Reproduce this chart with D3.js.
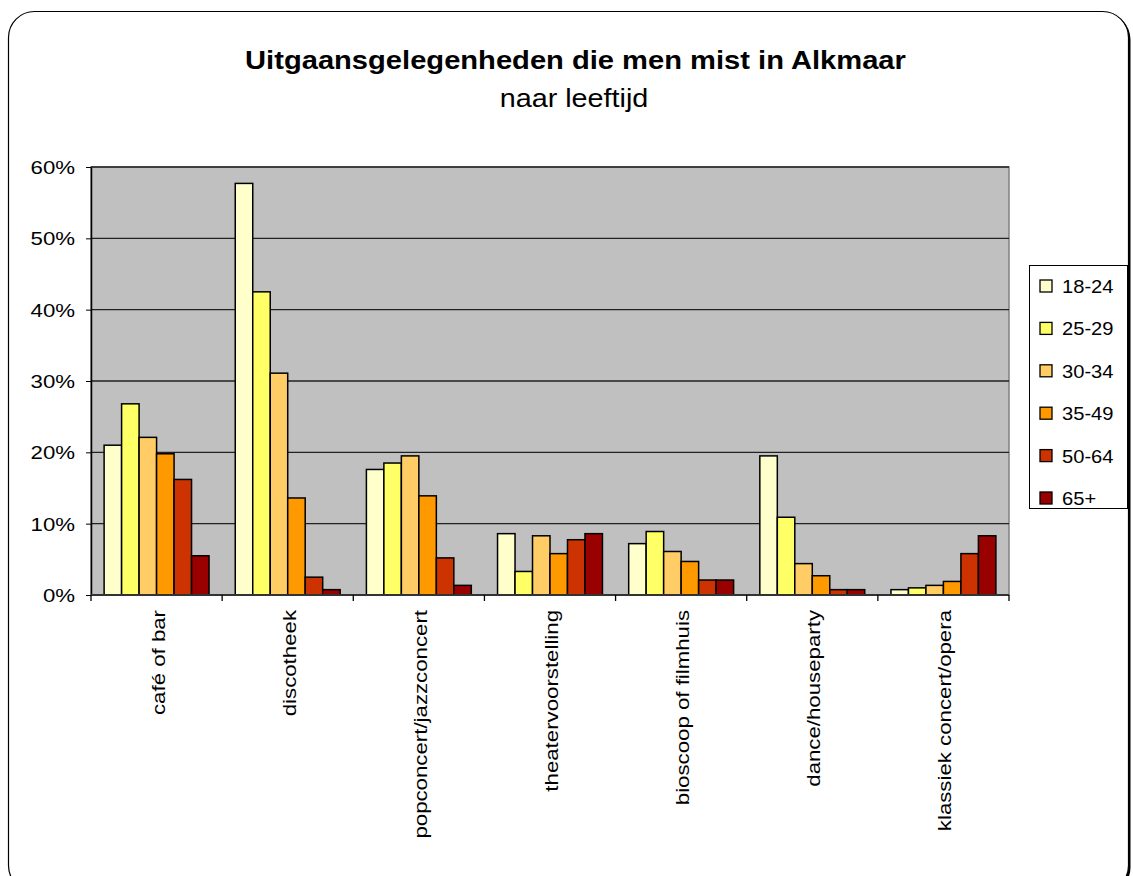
<!DOCTYPE html>
<html><head><meta charset="utf-8">
<script src="https://cdn.jsdelivr.net/npm/d3@7"></script>
<style>body{margin:0;background:#fff;font-family:"Liberation Sans",Arial,sans-serif;}</style>
</head><body><svg id="c" width="1133" height="876"></svg>
<script>
const categories = ["café of bar","discotheek","popconcert/jazzconcert","theatervoorstelling","bioscoop of filmhuis","dance/houseparty","klassiek concert/opera"];
const seriesNames = ["18-24","25-29","30-34","35-49","50-64","65+"];
const colors = ["#FFFFCC","#FFFF66","#FFCC66","#FF9900","#CC3300","#990000"];
const s1824 = [0.210,0.577,0.176,0.086,0.072,0.195,0.0075];
const s2529 = [0.268,0.425,0.185,0.033,0.089,0.109,0.010];
const s3034 = [0.221,0.311,0.195,0.083,0.061,0.044,0.0135];
const s3549 = [0.198,0.136,0.139,0.058,0.047,0.027,0.019];
const s5064 = [0.162,0.025,0.052,0.0775,0.021,0.0075,0.058];
const s65 = [0.055,0.0075,0.0135,0.086,0.021,0.0075,0.083];
const yTicks = [0,0.1,0.2,0.3,0.4,0.5,0.6];
const allSeries = [s1824,s2529,s3034,s3549,s5064,s65];

const svg = d3.select("#c");
const L=91,R=1009,T=167,B=595;
function stretch(sel,f){ sel.each(function(){ const w=this.getComputedTextLength(); d3.select(this).attr("textLength",w*f).attr("lengthAdjust","spacingAndGlyphs"); }); }

// outer border with shadow
svg.append("rect").attr("x",10.5).attr("y",13.5).attr("width",1120).attr("height",880).attr("rx",26).attr("fill","#000");
svg.append("rect").attr("x",8.5).attr("y",11.5).attr("width",1120).attr("height",880).attr("rx",26).attr("fill","#fff").attr("stroke","#000").attr("stroke-width",1.2);

const t1 = svg.append("text").attr("x",575.5).attr("y",69).attr("text-anchor","middle").attr("font-size",26).attr("font-weight","bold").text("Uitgaansgelegenheden die men mist in Alkmaar");
stretch(t1,1.12);
const t2 = svg.append("text").attr("x",574).attr("y",107).attr("text-anchor","middle").attr("font-size",25).text("naar leeftijd");
stretch(t2,1.15);

const x = d3.scaleBand().domain(categories).range([L,R]).paddingInner(0).paddingOuter(0);
const bw = x.bandwidth()/7.5;
const y = d3.scaleLinear().domain([0,0.6]).range([B,T]);

svg.append("rect").attr("x",L).attr("y",T).attr("width",R-L).attr("height",B-T).attr("fill","#C0C0C0").attr("stroke","#808080").attr("stroke-width",1.5);

svg.append("g").selectAll("line").data(yTicks.filter(d=>d>0)).join("line")
 .attr("x1",L).attr("x2",R).attr("y1",d=>y(d)).attr("y2",d=>y(d)).attr("stroke","#222").attr("stroke-width",1.3);

const g = svg.append("g");
allSeries.forEach((s,si)=>{
  g.selectAll(null).data(s).join("rect")
   .attr("x",(d,i)=>x(categories[i])+0.75*bw+si*bw)
   .attr("y",d=>y(d)).attr("width",bw).attr("height",d=>B-y(d))
   .attr("fill",colors[si]).attr("stroke","#000").attr("stroke-width",1.5);
});

// axes
const ya = svg.append("g").attr("transform",`translate(${L},0)`).call(d3.axisLeft(y).tickValues(yTicks).tickFormat(d3.format(".0%")).tickSize(5).tickSizeOuter(0));
ya.select(".domain").attr("stroke","#000").attr("stroke-width",1.5);
ya.selectAll("text").attr("font-size",18.5).attr("font-family","Liberation Sans, Arial, sans-serif").attr("fill","#000").attr("x",-16).attr("dy","0.35em");
stretch(ya.selectAll("text"),1.2);
ya.selectAll(".tick line").attr("stroke","#000");

const xa = svg.append("g").attr("transform",`translate(0,${B})`);
xa.append("line").attr("x1",L).attr("x2",R).attr("stroke","#333").attr("stroke-width",1.8);
xa.selectAll("line.t").data(d3.range(categories.length+1)).join("line").attr("class","t")
 .attr("x1",i=>L+i*x.bandwidth()).attr("x2",i=>L+i*x.bandwidth()).attr("y1",0).attr("y2",6).attr("stroke","#000").attr("stroke-width",1.3);
const xl = xa.selectAll("text").data(categories).join("text")
 .attr("transform",d=>`translate(${x(d)+x.bandwidth()/2+8},15) rotate(-90)`)
 .attr("text-anchor","end").attr("font-size",19).text(d=>d);
stretch(xl,1.17);

// legend
const lg = svg.append("g");
lg.append("rect").attr("x",1029.5).attr("y",265.5).attr("width",98).attr("height",243).attr("fill","#fff").attr("stroke","#000").attr("stroke-width",1);
seriesNames.forEach((n,i)=>{
  const cy = 286 + i*42.4;
  lg.append("rect").attr("x",1040).attr("y",cy-6).attr("width",12).attr("height",12).attr("fill",colors[i]).attr("stroke","#000").attr("stroke-width",1.3);
  const t = lg.append("text").attr("x",1062).attr("y",cy+7).attr("font-size",19).text(n);
  stretch(t,1.06);
});
</script></body></html>
